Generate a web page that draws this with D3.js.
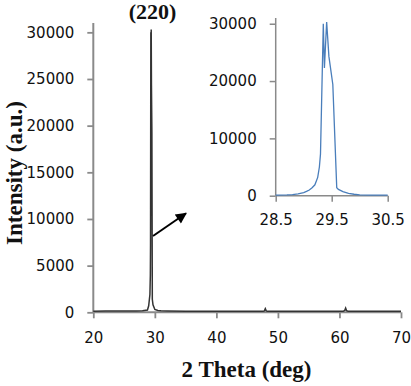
<!DOCTYPE html>
<html><head><meta charset="utf-8">
<script src="https://cdn.jsdelivr.net/npm/d3@7"></script>
<style>
html,body{margin:0;padding:0;background:#fff;}
svg{display:block;}
.tick text{font-family:"DejaVu Sans",sans-serif;font-size:15px;fill:#111;}
</style></head>
<body>
<svg id="c" width="411" height="386"></svg>
<script>
// Main pattern: 2θ (deg) and intensity (a.u.)
const mainTheta = [20, 22, 25, 27, 28, 28.8, 29.0, 29.2, 29.27, 29.3, 29.35, 29.37, 29.41, 29.45, 29.52, 29.59, 29.7, 30, 30.5, 31, 32, 35, 40, 45, 47.6, 47.8, 47.95, 48.1, 48.3, 55, 60.6, 60.85, 61.0, 61.15, 61.4, 65, 70];
const mainInt   = [120, 130, 130, 140, 160, 250, 700, 1900, 4000, 7300, 30000, 22300, 30300, 24300, 19400, 1400, 800, 300, 200, 160, 140, 120, 110, 100, 100, 150, 380, 150, 100, 100, 100, 200, 450, 180, 110, 100, 100];
// Inset (zoom of the (220) reflection)
const insetTheta = [28.5, 28.7, 28.8, 28.9, 29.0, 29.05, 29.1, 29.15, 29.2, 29.25, 29.28, 29.3, 29.35, 29.37, 29.41, 29.45, 29.52, 29.59, 29.62, 29.7, 29.8, 29.9, 30.0, 30.2, 30.5];
const insetInt   = [100, 150, 200, 300, 550, 750, 1000, 1400, 1900, 3200, 5000, 7300, 30000, 22300, 30300, 24300, 19400, 1400, 1100, 700, 400, 250, 150, 100, 100];
const mainXTicks = [20, 30, 40, 50, 60, 70];
const mainYTicks = [0, 5000, 10000, 15000, 20000, 25000, 30000];
const insetXTicks = [28.5, 29.5, 30.5];
const insetYTicks = [0, 10000, 20000, 30000];

const svg = d3.select("#c");
const axisCol = "#8a8a8a";
const serif = "'Liberation Serif','Times New Roman',serif";

// ---- main chart ----
const x = d3.scaleLinear().domain([20, 70]).range([93.3, 401]);
const y = d3.scaleLinear().domain([0, 31000]).range([312.3, 23]);

const gy = svg.append("g").attr("transform", `translate(${x(20)},0)`)
  .call(d3.axisLeft(y).tickValues(mainYTicks).tickFormat(d3.format("d")).tickSize(6).tickPadding(13));
const gx = svg.append("g").attr("transform", `translate(0,${y(0)})`)
  .call(d3.axisBottom(x).tickValues(mainXTicks).tickFormat(d3.format("d")).tickSize(6).tickPadding(14));
[gx, gy].forEach(g => {
  g.select(".domain").remove();
  g.selectAll(".tick line").attr("stroke", axisCol).attr("stroke-width", 1.8);
});
svg.append("line").attr("x1", x(20)).attr("x2", x(20)).attr("y1", y(0)).attr("y2", y(31000))
  .attr("stroke", axisCol).attr("stroke-width", 2);
svg.append("line").attr("x1", x(20)).attr("x2", x(70)).attr("y1", y(0)).attr("y2", y(0))
  .attr("stroke", axisCol).attr("stroke-width", 2);

const mainData = mainTheta.map((t, i) => [t, mainInt[i]]);
svg.append("path").datum(mainData)
  .attr("fill", "none").attr("stroke", "#333").attr("stroke-width", 1.5)
  .attr("d", d3.line().x(d => x(d[0])).y(d => y(d[1])));

// (220) label
svg.append("text").attr("x", 152.5).attr("y", 19).attr("text-anchor", "middle")
  .attr("font-family", serif).attr("font-weight", "bold")
  .attr("font-size", 22).attr("fill", "#111").text("(220)");

// axis titles
svg.append("text").attr("x", 246.5).attr("y", 377).attr("text-anchor", "middle")
  .attr("font-family", serif).attr("font-weight", "bold")
  .attr("font-size", 23).attr("fill", "#111").text("2 Theta (deg)");
svg.append("text").attr("transform", "translate(22,173) rotate(-90)").attr("text-anchor", "middle")
  .attr("font-family", serif).attr("font-weight", "bold")
  .attr("font-size", 23).attr("fill", "#111").text("Intensity (a.u.)");

// arrow
svg.append("defs").append("marker").attr("id", "ah").attr("viewBox", "0 0 10 10")
  .attr("refX", 9).attr("refY", 5).attr("markerWidth", 6.5).attr("markerHeight", 5.5).attr("markerUnits", "strokeWidth")
  .attr("orient", "auto").append("path").attr("d", "M0,0 L10,5 L0,10 Z").attr("fill", "#000");
svg.append("line").attr("x1", 153).attr("y1", 236).attr("x2", 186).attr("y2", 213.3)
  .attr("stroke", "#000").attr("stroke-width", 2).attr("marker-end", "url(#ah)");

// ---- inset ----
const xi = d3.scaleLinear().domain([28.5, 30.5]).range([275.7, 387.7]);
const yi = d3.scaleLinear().domain([0, 31000]).range([195.7, 18]);
const giy = svg.append("g").attr("transform", `translate(${xi(28.5)},0)`)
  .call(d3.axisLeft(yi).tickValues(insetYTicks).tickFormat(d3.format("d")).tickSize(6).tickPadding(13));
const gix = svg.append("g").attr("transform", `translate(0,${yi(0)})`)
  .call(d3.axisBottom(xi).tickValues(insetXTicks).tickFormat(d3.format(".1f")).tickSize(6).tickPadding(13));
[gix, giy].forEach(g => {
  g.select(".domain").remove();
  g.selectAll(".tick line").attr("stroke", axisCol).attr("stroke-width", 1.5);
});
svg.append("line").attr("x1", xi(28.5)).attr("x2", xi(28.5)).attr("y1", yi(0)).attr("y2", yi(31000))
  .attr("stroke", axisCol).attr("stroke-width", 1.5);
svg.append("line").attr("x1", xi(28.5)).attr("x2", xi(30.5)).attr("y1", yi(0)).attr("y2", yi(0))
  .attr("stroke", axisCol).attr("stroke-width", 1.5);
const insetData = insetTheta.map((t, i) => [t, insetInt[i]]);
svg.append("path").datum(insetData)
  .attr("fill", "none").attr("stroke", "#4a7ebb").attr("stroke-width", 1.3)
  .attr("d", d3.line().x(d => xi(d[0])).y(d => yi(d[1])));
</script>
</body></html>
